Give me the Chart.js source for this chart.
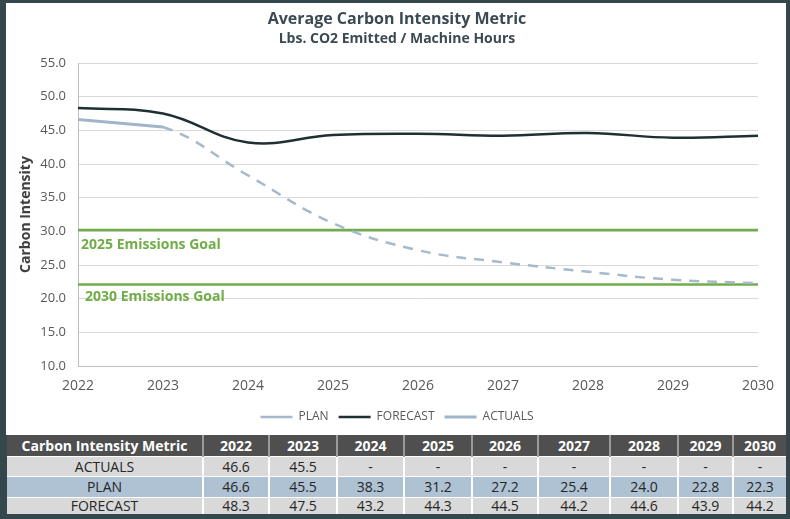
<!DOCTYPE html>
<html>
<head>
<meta charset="utf-8">
<script src="https://cdn.jsdelivr.net/npm/chart.js@4.4.1/dist/chart.umd.min.js"></script>
<style>
  html, body { margin: 0; padding: 0; }
  body { width: 790px; height: 519px; background: #33474d; position: relative; overflow: hidden; font-family: "Open Sans", sans-serif; }
  #panel { position: absolute; left: 6px; top: 3px; width: 780px; height: 432px; background: #ffffff; }
  #tw { position: absolute; left: 7px; top: 435px; width: 779px; height: 79px; overflow: hidden; }
  #tbl { width: 779px; border-collapse: collapse; table-layout: fixed; }
  #tbl th, #tbl td { padding: 0; text-align: center; overflow: hidden; white-space: nowrap; border-left: 2px solid #ffffff; }
  #tbl th:first-child, #tbl td:first-child { border-left: none; }
  #tbl th { background: #4f4f4f; color: #ffffff; font-weight: 700; font-size: 14px; height: 21px; border-left-color: #9a9a9a; }
  #tbl td { font-size: 14px; color: #262626; border-top: 1px solid #ffffff; }
  #tbl tr.g td { background: #d9d9d9; }
  #tbl tr.b td { background: #aec2d4; }
</style>
</head>
<body>
<div id="panel"><canvas id="c"></canvas></div>
<div id="tw"><table id="tbl"></table></div>
<script>
const years = ['2022','2023','2024','2025','2026','2027','2028','2029','2030'];
const actuals = [46.6, 45.5, null, null, null, null, null, null, null];
const plan = [46.6, 45.5, 38.3, 31.2, 27.2, 25.4, 24.0, 22.8, 22.3];
const forecast = [48.3, 47.5, 43.2, 44.3, 44.5, 44.2, 44.6, 43.9, 44.2];
const goal2025 = 30.2;
const goal2030 = 22.1;
const goalLabels = ['2025 Emissions Goal', '2030 Emissions Goal'];
const colWidths = [196, 66, 68, 67, 68, 66, 72, 68, 55, 53];
const rowHeights = [19, 20, 16];

// table
const tbl = document.getElementById('tbl');
const cg = document.createElement('colgroup');
colWidths.forEach(w => { const c = document.createElement('col'); c.style.width = w + 'px'; cg.appendChild(c); });
tbl.appendChild(cg);
const hr = document.createElement('tr');
['Carbon Intensity Metric'].concat(years).forEach(t => { const th = document.createElement('th'); th.textContent = t; hr.appendChild(th); });
tbl.appendChild(hr);
[['ACTUALS', actuals, 'g'], ['PLAN', plan, 'b'], ['FORECAST', forecast, 'g']].forEach((r, i) => {
  const tr = document.createElement('tr'); tr.className = r[2];
  const td0 = document.createElement('td'); td0.textContent = r[0]; tr.appendChild(td0);
  r[1].forEach(v => { const td = document.createElement('td'); td.textContent = v == null ? '-' : v.toFixed(1); tr.appendChild(td); });
  Array.from(tr.children).forEach(td => { td.style.height = rowHeights[i] + 'px'; td.style.lineHeight = rowHeights[i] + 'px'; });
  tbl.appendChild(tr);
});

const goalText = {
  id: 'goalText',
  afterDatasetsDraw(chart) {
    const ctx = chart.ctx, ys = chart.scales.y, ca = chart.chartArea;
    ctx.save();
    ctx.fillStyle = '#70ad47';
    ctx.font = 'bold 14px "Open Sans"';
    ctx.textBaseline = 'middle';
    ctx.textAlign = 'left';
    ctx.fillText(goalLabels[0], ca.left + 3, ys.getPixelForValue(goal2025) + 15);
    ctx.fillText(goalLabels[1], ca.left + 7, ys.getPixelForValue(goal2030) + 12);
    ctx.restore();
  }
};

new Chart(document.getElementById('c'), {
  type: 'line',
  data: {
    labels: years,
    datasets: [
      { label: 'PLAN', data: plan, borderColor: '#a6b9cd', backgroundColor: '#a6b9cd', borderWidth: 2.5, borderDash: [10, 8], pointRadius: 0, tension: 0.4, order: 1,
        segment: { borderColor: (c) => actuals[c.p1DataIndex] != null ? 'rgba(0,0,0,0)' : undefined } },
      { label: 'FORECAST', data: forecast, borderColor: '#1f3035', backgroundColor: '#1f3035', borderWidth: 2.5, pointRadius: 0, tension: 0.4, order: 2 },
      { label: 'ACTUALS', data: actuals, borderColor: '#9fb5c9', backgroundColor: '#9fb5c9', borderWidth: 3, pointRadius: 0, tension: 0.4, order: 0 },
      { label: '', data: years.map(() => goal2025), borderColor: '#70ad47', borderWidth: 2.5, pointRadius: 0, order: 3 },
      { label: '', data: years.map(() => goal2030), borderColor: '#70ad47', borderWidth: 2.5, pointRadius: 0, order: 3 }
    ]
  },
  options: {
    responsive: true,
    maintainAspectRatio: false,
    animation: false,
    layout: { padding: { left: 4, right: 2, top: 4, bottom: 2 } },
    plugins: {
      title: { display: true, text: 'Average Carbon Intensity Metric', color: '#3b4a52', font: { family: 'Open Sans', size: 16, weight: 'bold' }, padding: { top: 3, bottom: 1 } },
      subtitle: { display: true, text: 'Lbs. CO2 Emitted / Machine Hours', color: '#3b4a52', font: { family: 'Open Sans', size: 14, weight: 'bold' }, padding: { top: 0, bottom: 16 } },
      legend: {
        position: 'bottom',
        labels: {
          filter: (item) => item.text !== '',
          sort: (a, b) => a.datasetIndex - b.datasetIndex,
          usePointStyle: true, pointStyle: 'line', pointStyleWidth: 32,
          color: '#595959', font: { family: 'Open Sans', size: 12 }, padding: 10
        }
      },
      tooltip: { enabled: false }
    },
    scales: {
      x: {
        grid: { display: false, drawTicks: false },
        border: { display: true, color: '#bfbfbf', width: 1 },
        ticks: { color: '#595959', font: { family: 'Open Sans', size: 14 }, padding: 12, maxRotation: 0 },
        afterFit: (s) => { s.height = 35; }
      },
      y: {
        min: 10, max: 55,
        ticks: { stepSize: 5, color: '#595959', font: { family: 'Open Sans', size: 13 }, padding: 12, callback: (v) => v.toFixed(1) },
        grid: { color: '#d9d9d9', drawTicks: false },
        border: { display: true, color: '#bfbfbf', width: 1 },
        title: { display: true, text: 'Carbon Intensity', color: '#404040', font: { family: 'Open Sans', size: 14, weight: 'bold' }, padding: { top: 8, bottom: 0 } },
        afterFit: (s) => { s.width = 68; }
      },
      yr: {
        position: 'right',
        display: true,
        grid: { display: false, drawTicks: false },
        border: { display: false },
        ticks: { display: false },
        afterFit: (s) => { s.width = 22; }
      }
    }
  },
  plugins: [goalText]
});
</script>
</body>
</html>
